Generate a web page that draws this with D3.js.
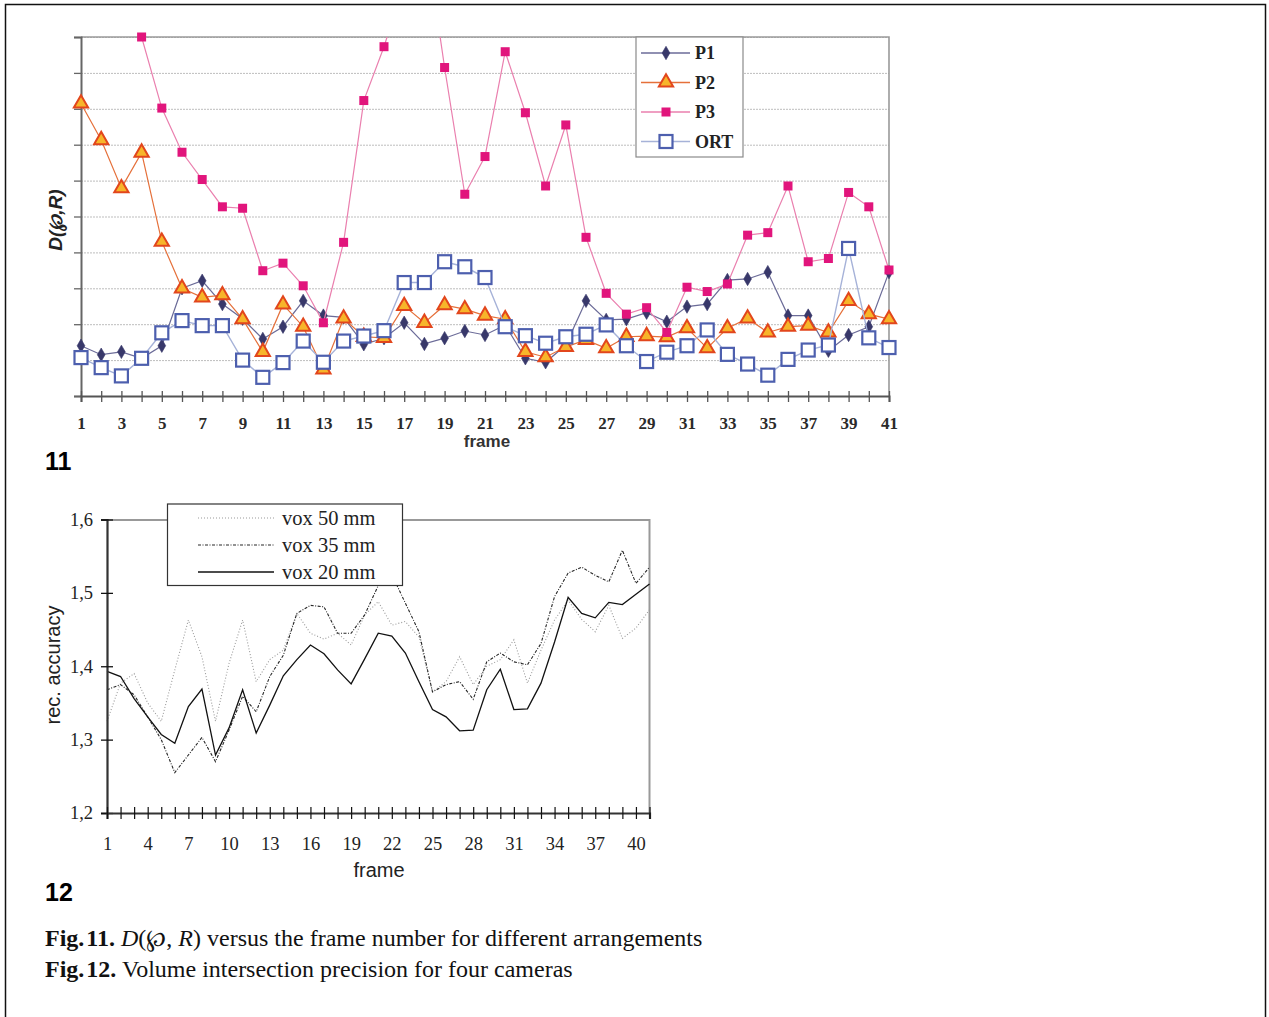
<!DOCTYPE html>
<html>
<head>
<meta charset="utf-8">
<script src="https://cdn.jsdelivr.net/npm/d3@7"></script>
<style>
  body { margin: 0; background: #fff; }
  svg { display: block; }
</style>
</head>
<body>
<svg id="page" width="1269" height="1017"></svg>
<script>
// ---------- Fig. 11 data: D(p,R) per frame, in grid units ----------
const frames11 = [1,2,3,4,5,6,7,8,9,10,11,12,13,14,15,16,17,18,19,20,21,22,23,24,25,26,27,28,29,30,31,32,33,34,35,36,37,38,39,40,41];
const xLabels11 = [1,3,5,7,9,11,13,15,17,19,21,23,25,27,29,31,33,35,37,39,41];
const seriesNames11 = ["P1", "P2", "P3", "ORT"];
const p1 = [1.40,1.15,1.23,1.05,1.40,3.00,3.21,2.56,2.15,1.59,1.93,2.65,2.24,2.19,1.44,1.61,2.04,1.45,1.61,1.81,1.70,1.98,1.05,0.94,1.42,2.65,2.12,2.14,2.32,2.07,2.49,2.56,3.23,3.26,3.45,2.24,2.24,1.26,1.70,1.93,3.45];
const p2 = [8.15,7.13,5.79,6.78,4.30,3.00,2.75,2.81,2.14,1.23,2.55,1.93,0.74,2.16,1.65,1.62,2.51,2.04,2.53,2.42,2.24,2.14,1.23,1.08,1.37,1.56,1.33,1.65,1.67,1.64,1.89,1.33,1.89,2.16,1.77,1.93,1.96,1.77,2.65,2.28,2.14];
const p3 = [null,null,null,10.0,8.02,6.79,6.03,5.27,5.23,3.49,3.70,3.07,2.04,4.28,8.23,9.73,11.5,13.0,9.15,5.62,6.67,9.59,7.89,5.85,7.55,4.42,2.86,2.28,2.46,1.77,3.03,2.91,3.12,4.48,4.55,5.85,3.74,3.83,5.67,5.27,3.51];
const ort = [1.07,0.79,0.56,1.05,1.76,2.10,1.96,1.96,1.00,0.52,0.93,1.53,0.94,1.53,1.67,1.82,3.16,3.16,3.74,3.60,3.30,1.93,1.68,1.47,1.65,1.72,1.98,1.40,0.96,1.22,1.40,1.84,1.16,0.89,0.58,1.02,1.28,1.42,4.11,1.62,1.35];
const yGrid11 = [0,1,2,3,4,5,6,7,8,9,10];

// ---------- Fig. 12 data: reconstruction accuracy per frame ----------
const frames12 = [1,2,3,4,5,6,7,8,9,10,11,12,13,14,15,16,17,18,19,20,21,22,23,24,25,26,27,28,29,30,31,32,33,34,35,36,37,38,39,40,41];
const xLabels12 = [1,4,7,10,13,16,19,22,25,28,31,34,37,40];
const yTicks12 = [1.2,1.3,1.4,1.5,1.6];
const seriesNames12 = ["vox 50 mm", "vox 35 mm", "vox 20 mm"];
const vox50 = [1.325,1.377,1.390,1.350,1.325,1.395,1.463,1.413,1.325,1.404,1.463,1.379,1.409,1.422,1.472,1.445,1.437,1.445,1.429,1.470,1.488,1.456,1.461,1.440,1.365,1.379,1.413,1.375,1.400,1.409,1.436,1.377,1.422,1.463,1.490,1.464,1.447,1.483,1.438,1.452,1.477];
const vox35 = [1.368,1.375,1.361,1.331,1.300,1.255,1.279,1.303,1.270,1.313,1.359,1.338,1.386,1.415,1.472,1.483,1.481,1.445,1.445,1.470,1.510,1.525,1.486,1.447,1.365,1.375,1.379,1.355,1.406,1.418,1.406,1.402,1.431,1.495,1.527,1.535,1.524,1.515,1.558,1.513,1.535];
const vox20 = [1.393,1.386,1.356,1.331,1.307,1.295,1.345,1.369,1.279,1.316,1.368,1.309,1.347,1.387,1.409,1.429,1.417,1.395,1.376,1.410,1.445,1.441,1.418,1.379,1.341,1.331,1.312,1.313,1.368,1.396,1.341,1.342,1.377,1.433,1.494,1.472,1.466,1.487,1.484,1.498,1.512];

const SERIF = "'Liberation Serif', 'Times New Roman', serif";
const SANS = "'Liberation Sans', Arial, sans-serif";

const svg = d3.select("#page");

// page frame
svg.append("path")
  .attr("d", "M5.5,1017V4.5H1265.5V1017")
  .attr("fill", "none").attr("stroke", "#111").attr("stroke-width", 1.5);

// =====================================================================
// Fig. 11
// =====================================================================
const x11 = d3.scaleLinear().domain([1, 41]).range([81, 889]);
const y11 = d3.scaleLinear().domain([0, 10]).range([396, 37]);
const g11 = svg.append("g");

svg.append("defs").append("clipPath").attr("id", "plot11")
  .append("rect").attr("x", 70).attr("y", 37).attr("width", 830).attr("height", 370);

// horizontal grid
g11.append("g")
  .call(d3.axisLeft(y11).tickValues(yGrid11.slice(1)).tickSize(-(889 - 81)).tickFormat(""))
  .attr("transform", "translate(81,0)")
  .call(g => g.select(".domain").remove())
  .call(g => g.selectAll("line").attr("stroke", "#bdbdbd").attr("stroke-dasharray", "2,1"));

// plot frame: top and right edges
g11.append("path").attr("d", "M81,37H889V396")
  .attr("fill", "none").attr("stroke", "#9a9a9a").attr("stroke-width", 1.6);

// y axis with small outside ticks, no labels
g11.append("g").attr("transform", "translate(81,0)")
  .call(d3.axisLeft(y11).tickValues(yGrid11).tickSize(7).tickFormat(""))
  .call(g => g.select(".domain").attr("stroke", "#666").attr("stroke-width", 2))
  .call(g => g.selectAll(".tick line").attr("stroke", "#666").attr("stroke-width", 1.3));

// x axis with crossing ticks, odd frames labelled
g11.append("g").attr("transform", "translate(0,396)")
  .call(d3.axisBottom(x11).tickValues(frames11).tickSize(6).tickPadding(15)
    .tickFormat(d => xLabels11.includes(d) ? d : ""))
  .call(g => g.select(".domain").attr("stroke", "#555").attr("stroke-width", 2))
  .call(g => g.selectAll(".tick line").attr("y1", -5).attr("y2", 6).attr("stroke", "#555").attr("stroke-width", 1.3))
  .call(g => g.selectAll(".tick text")
    .attr("font-family", SERIF).attr("font-size", 17).attr("font-weight", "bold").attr("fill", "#2a2a2a"));

g11.append("text").text("frame")
  .attr("x", 487).attr("y", 447).attr("text-anchor", "middle")
  .attr("font-family", SANS).attr("font-size", 17).attr("font-weight", "bold").attr("fill", "#333");

// y label D(p,R)
g11.append("text")
  .attr("transform", "translate(62,220) rotate(-90)")
  .attr("text-anchor", "middle")
  .attr("font-family", SANS).attr("font-size", 19).attr("font-weight", "bold")
  .attr("font-style", "italic").attr("fill", "#222")
  .text("D(\u2118,R)");

// series styles
const styles11 = {
  P1: { line: "#6b6b98", width: 1.2 },
  P2: { line: "#e5703a", width: 1.2 },
  P3: { line: "#ea7fae", width: 1.2 },
  ORT: { line: "#a6b2d8", width: 1.4 }
};
const data11 = { P1: p1, P2: p2, P3: p3, ORT: ort };

function drawMarker(sel, name) {
  if (name === "P1") {
    sel.append("path").attr("d", d3.symbol(d3.symbolDiamond, 52)())
      .attr("fill", "#38386a").attr("stroke", "#38386a").attr("stroke-width", 0.6);
  } else if (name === "P2") {
    sel.append("path").attr("d", d3.symbol(d3.symbolTriangle, 88)())
      .attr("fill", "#f7b52a").attr("stroke", "#e2461c").attr("stroke-width", 2);
  } else if (name === "P3") {
    sel.append("rect").attr("x", -4.5).attr("y", -4.5).attr("width", 9).attr("height", 9)
      .attr("fill", "#e1157c");
  } else {
    sel.append("rect").attr("x", -6.5).attr("y", -6.5).attr("width", 13).attr("height", 13)
      .attr("fill", "#fff").attr("stroke", "#4d5fae").attr("stroke-width", 2.2);
  }
}

seriesNames11.forEach(name => {
  const vals = data11[name];
  const pts = frames11.map((f, i) => ({ f, v: vals[i] }));
  const line = d3.line().defined(d => d.v != null)
    .x(d => x11(d.f)).y(d => y11(d.v));
  const sg = g11.append("g");
  sg.append("path").datum(pts).attr("d", line)
    .attr("clip-path", "url(#plot11)")
    .attr("fill", "none").attr("stroke", styles11[name].line).attr("stroke-width", styles11[name].width);
  sg.selectAll("g.m").data(pts.filter(d => d.v != null && d.v <= 10)).join("g")
    .attr("transform", d => `translate(${x11(d.f)},${y11(d.v)})`)
    .each(function () { drawMarker(d3.select(this), name); });
});

// legend
const lg11 = g11.append("g");
lg11.append("rect").attr("x", 636).attr("y", 37).attr("width", 107).attr("height", 120)
  .attr("fill", "#fff").attr("stroke", "#8a8a8a").attr("stroke-width", 1.2);
seriesNames11.forEach((name, i) => {
  const cy = 53 + i * 29.5;
  lg11.append("line").attr("x1", 641).attr("x2", 690).attr("y1", cy).attr("y2", cy)
    .attr("stroke", styles11[name].line).attr("stroke-width", 1.3);
  const m = lg11.append("g").attr("transform", `translate(666,${cy})`);
  drawMarker(m, name);
  lg11.append("text").text(name).attr("x", 695).attr("y", cy + 6)
    .attr("font-family", SERIF).attr("font-size", 18).attr("font-weight", "bold").attr("fill", "#222");
});

svg.append("text").text("11").attr("x", 45).attr("y", 470)
  .attr("font-family", SANS).attr("font-size", 25).attr("font-weight", "bold").attr("fill", "#000");

// =====================================================================
// Fig. 12
// =====================================================================
const x12 = d3.scaleLinear().domain([1, 41]).range([107, 649.5]);
const y12 = d3.scaleLinear().domain([1.2, 1.6]).range([813, 519.5]);
const g12 = svg.append("g");

// frame top/right
g12.append("path").attr("d", "M107,520H649.5V813")
  .attr("fill", "none").attr("stroke", "#999").attr("stroke-width", 2);

const lineStyles12 = [
  { data: vox50, color: "#9a9a9a", width: 1.1, dash: "1,2" },
  { data: vox35, color: "#262626", width: 1.1, dash: "3,1.5,1,1.5" },
  { data: vox20, color: "#111", width: 1.3, dash: null }
];

lineStyles12.forEach(s => {
  const pts = frames12.map((f, i) => ({ f, v: s.data[i] }));
  g12.append("path").datum(pts)
    .attr("d", d3.line().x(d => x12(d.f)).y(d => y12(d.v)))
    .attr("fill", "none").attr("stroke", s.color).attr("stroke-width", s.width)
    .attr("stroke-dasharray", s.dash);
});

// y axis
g12.append("g").attr("transform", "translate(107,0)")
  .call(d3.axisLeft(y12).tickValues(yTicks12).tickSize(6).tickPadding(8)
    .tickFormat(d => d3.format(".1f")(d).replace(".", ",")))
  .call(g => g.select(".domain").attr("stroke", "#333").attr("stroke-width", 2.2))
  .call(g => g.selectAll(".tick line").attr("x1", 6).attr("stroke", "#111").attr("stroke-width", 1.3))
  .call(g => g.selectAll(".tick text").attr("font-family", SERIF).attr("font-size", 18.5).attr("fill", "#222"));

// x axis
g12.append("g").attr("transform", "translate(0,813)")
  .call(d3.axisBottom(x12).tickValues(frames12).tickSize(6).tickPadding(18)
    .tickFormat(d => xLabels12.includes(d) ? d : ""))
  .call(g => g.select(".domain").attr("stroke", "#333").attr("stroke-width", 2.2))
  .call(g => g.selectAll(".tick line").attr("y1", -6).attr("stroke", "#111").attr("stroke-width", 1.2))
  .call(g => g.selectAll(".tick text").attr("font-family", SERIF).attr("font-size", 18.5).attr("fill", "#222"));

g12.append("text").text("frame").attr("x", 379).attr("y", 877).attr("text-anchor", "middle")
  .attr("font-family", SANS).attr("font-size", 20).attr("fill", "#222");

g12.append("text").text("rec. accuracy")
  .attr("transform", "translate(60,665) rotate(-90)").attr("text-anchor", "middle")
  .attr("font-family", SANS).attr("font-size", 20).attr("fill", "#222");

// legend
const lg12 = g12.append("g");
lg12.append("rect").attr("x", 167.5).attr("y", 504).attr("width", 235).attr("height", 81.5)
  .attr("fill", "#fff").attr("stroke", "#333").attr("stroke-width", 1.2);
seriesNames12.forEach((name, i) => {
  const cy = 518 + i * 27;
  const s = lineStyles12[i];
  lg12.append("line").attr("x1", 198).attr("x2", 274).attr("y1", cy).attr("y2", cy)
    .attr("stroke", s.color).attr("stroke-width", s.width).attr("stroke-dasharray", s.dash);
  lg12.append("text").text(name).attr("x", 282).attr("y", cy + 6.5)
    .attr("font-family", SERIF).attr("font-size", 20.5).attr("fill", "#222");
});

svg.append("text").text("12").attr("x", 45).attr("y", 901)
  .attr("font-family", SANS).attr("font-size", 25).attr("font-weight", "bold").attr("fill", "#000");

// =====================================================================
// captions
// =====================================================================
const cap1 = svg.append("text").attr("x", 45).attr("y", 946)
  .attr("font-family", SERIF).attr("font-size", 24).attr("fill", "#111");
cap1.append("tspan").attr("font-weight", "bold").text("Fig.\u200a11.");
cap1.append("tspan").text(" ");
cap1.append("tspan").attr("font-style", "italic").text("D");
cap1.append("tspan").text("(\u2118, ");
cap1.append("tspan").attr("font-style", "italic").text("R");
cap1.append("tspan").text(") versus the frame number for different arrangements");

const cap2 = svg.append("text").attr("x", 45).attr("y", 977)
  .attr("font-family", SERIF).attr("font-size", 24).attr("fill", "#111");
cap2.append("tspan").attr("font-weight", "bold").text("Fig.\u200a12.");
cap2.append("tspan").text(" Volume intersection precision for four cameras");
</script>
</body>
</html>
